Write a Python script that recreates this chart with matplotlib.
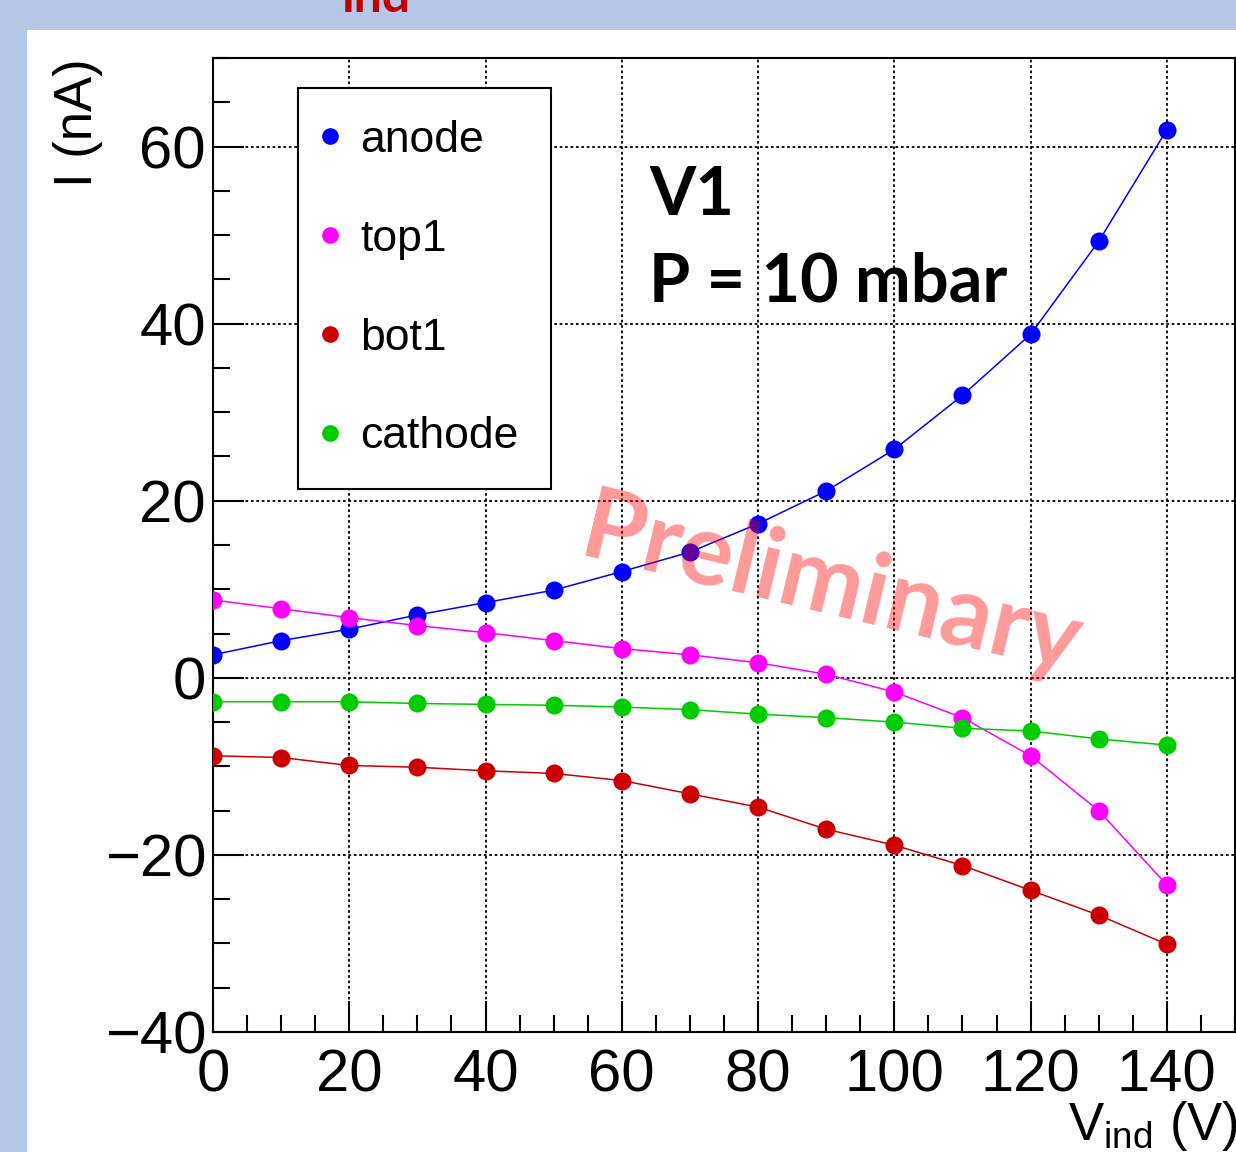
import matplotlib
matplotlib.use("Agg")
import matplotlib.pyplot as plt
from matplotlib.lines import Line2D
from matplotlib.patches import Rectangle
from matplotlib.ticker import MultipleLocator

plt.rcParams['font.family'] = ['Liberation Sans', 'DejaVu Sans']
plt.rcParams['mathtext.fontset'] = 'custom'
plt.rcParams['mathtext.rm'] = 'Liberation Sans'

# induction voltage (V)
v_ind = [0, 10, 20, 30, 40, 50, 60, 70, 80, 90, 100, 110, 120, 130, 140]

# currents (nA)
anode = [2.6, 4.2, 5.5, 7.1, 8.5, 9.9, 12.0, 14.2, 17.4, 21.1, 25.8, 31.9, 38.8, 49.3, 61.9]
top1 = [8.8, 7.8, 6.8, 5.9, 5.1, 4.2, 3.3, 2.6, 1.7, 0.4, -1.6, -4.5, -8.8, -15.0, -23.4]
bot1 = [-8.8, -9.0, -9.9, -10.1, -10.5, -10.8, -11.6, -13.1, -14.6, -17.1, -18.9, -21.2, -24.0, -26.8, -30.1]
cathode = [-2.7, -2.7, -2.7, -2.9, -3.0, -3.1, -3.3, -3.6, -4.1, -4.5, -5.0, -5.7, -6.0, -6.9, -7.6]

series = [("anode", anode, "#0000ff"),
          ("top1", top1, "#ff00ff"),
          ("bot1", bot1, "#cc0000"),
          ("cathode", cathode, "#00cc00")]

W, H = 1236, 1152
fig = plt.figure(figsize=(W / 100, H / 100), dpi=100, facecolor="#b4c7e7")

# white slide panel
fig.patches.append(Rectangle((27 / W, 0), 1 - 27 / W, 1 - 30 / H, transform=fig.transFigure,
                             facecolor="white", edgecolor="none", zorder=-5))

ax = fig.add_axes([213 / W, 1 - 1032 / H, 1022 / W, 974 / H])
ax.set_xlim(0, 150)
ax.set_ylim(-40, 70)

for name, vals, col in series:
    ax.plot(v_ind, vals, "-o", color=col, lw=1.1, ms=13, mew=0, zorder=3)

# axes style (ROOT-like)
ax.xaxis.set_major_locator(MultipleLocator(20))
ax.xaxis.set_minor_locator(MultipleLocator(5))
ax.yaxis.set_major_locator(MultipleLocator(20))
ax.yaxis.set_minor_locator(MultipleLocator(5))
ax.tick_params(which="both", direction="in", top=False, right=False, width=1.5, color="black")
ax.tick_params(which="major", length=22, labelsize=43)
ax.tick_params(which="minor", length=12)
ax.tick_params(axis="x", pad=12)
ax.tick_params(axis="y", pad=5)
for sp in ax.spines.values():
    sp.set_linewidth(1.5)
ax.grid(True, which="major", color="black", lw=1.3, ls=(0, (1.5, 1.5)))
ax.set_axisbelow(True)

# legend (markers only)
handles = [Line2D([], [], ls="none", marker="o", color=col, ms=12, mew=0) for _, _, col in series]
labels = [name for name, _, _ in series]
leg = ax.legend(handles, labels, loc="upper left",
                bbox_to_anchor=((298 - 213) / 1022, 1 - (88 - 58) / 974),
                borderaxespad=0, fontsize=32, frameon=True, fancybox=False, framealpha=1,
                edgecolor="black", borderpad=0.72, labelspacing=1.3, handlelength=0.0,
                handletextpad=0.68)
leg.get_frame().set_linewidth(1.5)

# annotations
fig.text(649 / W, 1 - 215 / H, "V1", fontsize=48, fontweight="bold", family="Lato",
         ha="left", va="baseline")
fig.text(649 / W, 1 - 302 / H, "P = 10 mbar", fontsize=48, fontweight="bold", family="Lato",
         ha="left", va="baseline")
fig.text(831 / W, 1 - 587 / H, "Preliminary", fontsize=72, fontweight="bold", family="Lato",
         color="red", alpha=0.4, rotation=-13.5, rotation_mode="anchor",
         ha="center", va="center", zorder=10)

# axis titles
fig.text(78 / W, 1 - 58 / H, "I (nA)", fontsize=38, rotation=90, ha="center", va="top")
fig.text(1238 / W, 1 - 1140 / H, r"V$_{\mathregular{ind}}$ (V)", fontsize=38,
         ha="right", va="baseline")

# cut-off slide title fragment
fig.text(376 / W, 1 - 12 / H, "ind", fontsize=36, fontweight="bold", family="Lato",
         color="#c00000", ha="center", va="baseline")

fig.savefig("out.png", dpi=100, facecolor=fig.get_facecolor())
